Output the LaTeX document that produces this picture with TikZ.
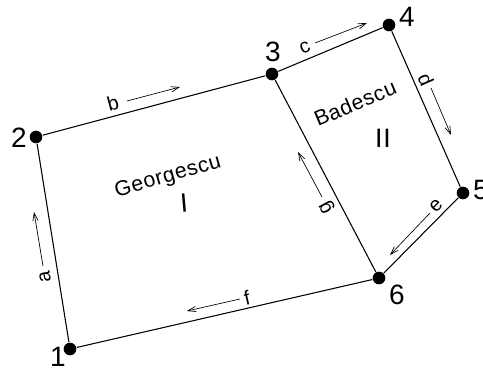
\documentclass[tikz,border=0pt]{standalone}
\usepackage{fontspec}
\setmainfont{Liberation Sans}[LetterSpace=3]
\usetikzlibrary{arrows.meta}

\begin{document}
\begin{tikzpicture}[x=0.75pt,y=-0.75pt,line width=0.8pt,
  dot/.style={circle,fill=black,inner sep=0pt,minimum size=9.5pt},
  numlbl/.style={font=\fontsize{21}{21}\selectfont,inner sep=0pt},
  edgelbl/.style={font=\fontsize{15}{15}\selectfont,inner sep=0pt},
  arealbl/.style={font=\fontsize{16}{16}\selectfont,inner sep=0pt},
  romanlbl/.style={font=\fontsize{20}{20}\selectfont,inner sep=0pt},
  dirarrow/.style={line width=0.5pt,-{Straight Barb[length=6pt,width=4pt]}}]
  \useasboundingbox (0,0) rectangle (483,368);

  % ---- junction points ----
  \foreach \n/\x/\y in {1/70/349,2/36/137,3/272/74,4/389/25,5/463/193,6/379/278}{
    \node[dot] (p\n) at (\x,\y) {};
  }
  \foreach \n/\x/\y in {1/58/357,2/19/138,3/273/52,4/407/17,5/481/190,6/397/295}{
    \node[numlbl] (t\n) at (\x,\y) {\n};
  }

  % ---- boundary lines ----
  \foreach \s/\t in {1/2,2/3,3/4,4/5,5/6,6/1,3/6}{
    \draw (p\s) -- (p\t);
  }

  % ---- edge names with direction arrows ----
  \foreach \l/\x/\y/\r in {a/45/277/99,b/113/103/15,c/305/48/23,d/426/80/-66,
                           e/436/206/45,f/247/298/13,g/327/207/118}{
    \node[edgelbl,rotate=\r] (e\l) at (\x,\y) {\l};
  }
  \foreach \x/\y/\u/\v in {43/266/34/212,127/101/180/87,315/43/367/23,431/88/451/135,
                           430/213/390/255,240/299/187/311,322/197/298/152}{
    \draw[dirarrow] (\x,\y) -- (\u,\v);
  }

  % ---- areas ----
  \node[arealbl,rotate=16] (geo) at (168,177) {Georgescu};
  \node[romanlbl,rotate=5] (rI) at (184,203) {I};
  \node[arealbl,rotate=23] (bad) at (355,103) {Badescu};
  \node[romanlbl] (rII) at (383,138) {II};
\end{tikzpicture}
\end{document}
